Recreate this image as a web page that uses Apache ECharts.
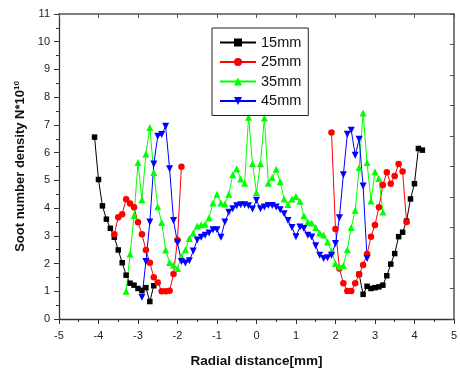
<!DOCTYPE html>
<html>
<head>
<meta charset="utf-8">
<script src="https://cdn.jsdelivr.net/npm/echarts@6/dist/echarts.min.js"></script>
<style>
html,body{margin:0;padding:0;background:#fff;}
#chart{width:460px;height:373px;}
</style>
</head>
<body>
<div id="chart"></div>
<script>
// ---- data (Radial distance [mm], Soot number density N*10^10) ----
const seriesNames = ['15mm', '25mm', '35mm', '45mm'];
const xTicks = [-5, -4, -3, -2, -1, 0, 1, 2, 3, 4, 5];

const x15 = [-4.1,-4.0,-3.9,-3.8,-3.7,-3.6,-3.5,-3.4,-3.3,-3.2,-3.1,-3.0,-2.9,-2.8,-2.7,-2.6,
             0,
             2.6,2.7,2.8,2.9,3.0,3.1,3.2,3.3,3.4,3.5,3.6,3.7,3.8,3.9,4.0,4.1,4.2];
const y15 = [6.56,5.03,4.08,3.60,3.27,2.95,2.49,2.03,1.58,1.29,1.22,1.10,1.03,1.13,0.63,1.20,
             null,
             1.61,0.89,1.18,1.10,1.13,1.16,1.22,1.56,1.98,2.36,2.97,3.13,3.53,4.33,4.88,6.15,6.09];

const x25 = [-3.6,-3.5,-3.4,-3.3,-3.2,-3.1,-3.0,-2.9,-2.8,-2.7,-2.6,-2.5,-2.4,-2.3,-2.2,-2.1,-2.0,-1.9,
             0,
             1.9,2.0,2.1,2.2,2.3,2.4,2.5,2.6,2.7,2.8,2.9,3.0,3.1,3.2,3.3,3.4,3.5,3.6,3.7,3.8];
const y25 = [3.06,3.67,3.78,4.32,4.17,4.03,3.49,3.06,2.49,2.03,1.51,1.32,1.00,1.00,1.02,1.62,2.85,5.49,
             null,
             6.73,3.25,1.82,1.29,1.01,1.01,1.29,1.61,1.95,2.34,2.97,3.39,4.03,4.83,5.29,4.88,5.16,5.59,5.32,3.50];

const x35 = [-3.3,-3.2,-3.1,-3.0,-2.9,-2.8,-2.7,-2.6,-2.5,-2.4,-2.3,-2.2,-2.1,-2.0,-1.9,-1.8,-1.7,-1.6,-1.5,-1.4,
             -1.3,-1.2,-1.1,-1.0,-0.9,-0.8,-0.7,-0.6,-0.5,-0.4,-0.3,-0.2,-0.1,0.0,0.1,0.2,0.3,0.4,0.5,0.6,
             0.7,0.8,0.9,1.0,1.1,1.2,1.3,1.4,1.5,1.6,1.7,1.8,1.9,2.0,2.1,2.2,2.3,2.4,2.5,2.6,
             2.7,2.8,2.9,3.0,3.1,3.2];
const y35 = [1.00,2.34,3.73,5.64,4.30,5.95,6.91,5.28,4.05,3.48,2.49,2.04,1.95,1.82,2.25,2.50,2.90,3.10,3.35,3.40,
             3.42,3.65,4.18,4.50,4.18,4.15,4.50,5.20,5.42,5.05,4.90,7.28,5.60,4.56,5.60,7.25,4.90,5.10,5.40,4.95,
             4.33,4.13,4.33,4.42,4.25,3.72,3.50,3.46,3.30,3.10,3.03,2.78,2.45,2.00,1.88,1.93,2.50,3.30,3.92,5.46,
             7.43,5.64,4.26,5.31,5.07,3.86];

const x45 = [-2.9,-2.8,-2.7,-2.6,-2.5,-2.4,-2.3,-2.2,-2.1,-2.0,-1.9,-1.8,-1.7,-1.6,-1.5,-1.4,-1.3,-1.2,-1.1,-1.0,
             -0.9,-0.8,-0.7,-0.6,-0.5,-0.4,-0.3,-0.2,-0.1,0.0,0.1,0.2,0.3,0.4,0.5,0.6,0.7,0.8,0.9,1.0,
             1.1,1.2,1.3,1.4,1.5,1.6,1.7,1.8,1.9,2.0,2.1,2.2,2.3,2.4,2.5,2.6,2.7,2.8];
const y45 = [0.78,2.07,3.50,5.59,6.59,6.65,6.95,5.42,3.55,2.75,2.07,2.02,2.10,2.45,2.85,2.95,3.02,3.10,3.22,3.22,
             2.95,3.50,3.85,3.98,4.08,4.12,4.12,4.08,3.97,4.28,3.98,4.04,4.09,4.09,4.04,3.94,3.80,3.55,3.30,2.97,
             3.32,3.26,3.02,2.96,2.64,2.30,2.18,2.21,2.30,2.72,3.65,5.20,6.66,6.81,5.91,6.48,4.80,2.18];

function pairs(xs, ys) {
  return xs.map((x, i) => ys[i] === null ? [x, '-'] : [x, ys[i]]);
}

const chart = echarts.init(document.getElementById('chart'), null, {renderer: 'canvas'});
const FONT = '"Liberation Sans", Arial, sans-serif';
const axisCol = '#333';

function lineSeries(name, xs, ys, color, symbol, size, rotate) {
  return {
    name: name, type: 'line', data: pairs(xs, ys),
    symbol: symbol, symbolSize: size, symbolRotate: rotate || 0,
    showAllSymbol: true, connectNulls: false,
    lineStyle: {color: color, width: 1},
    itemStyle: {color: color, borderWidth: 0},
    emphasis: {disabled: true},
    animation: false
  };
}

chart.setOption({
  animation: false,
  backgroundColor: '#fff',
  grid: {left: 59, right: 3.5, top: 14, bottom: 53, containLabel: false},
  legend: {
    orient: 'vertical', left: 212, top: 28,
    padding: [7, 7, 7, 7],
    itemWidth: 36, itemHeight: 10, itemGap: 4.5,
    borderColor: '#222', borderWidth: 1, backgroundColor: '#fff',
    textStyle: {fontFamily: FONT, fontSize: 14.5, color: '#111', lineHeight: 14},
    data: seriesNames,
    selectedMode: false
  },
  xAxis: [{
    type: 'value', min: xTicks[0], max: xTicks[xTicks.length - 1], interval: 1,
    position: 'bottom',
    name: 'Radial distance[mm]', nameLocation: 'middle', nameGap: 35,
    nameTextStyle: {fontFamily: FONT, fontSize: 13.5, fontWeight: 'bold', color: '#111'},
    axisLine: {onZero: false, lineStyle: {color: axisCol, width: 1.3}},
    axisTick: {inside: false, length: 5, lineStyle: {color: axisCol, width: 1}},
    minorTick: {show: true, splitNumber: 2, length: 3, lineStyle: {color: axisCol, width: 1}},
    axisLabel: {margin: 11, fontFamily: FONT, fontSize: 11, color: '#222'},
    splitLine: {show: false}
  }, {
    type: 'value', min: -5, max: 5, interval: 1, position: 'top',
    axisLine: {onZero: false, lineStyle: {color: '#555', width: 1.5}},
    axisTick: {inside: true, length: 4, lineStyle: {color: '#555', width: 1}},
    axisLabel: {show: false}, splitLine: {show: false}
  }],
  yAxis: [{
    type: 'value', min: 0, max: 11, interval: 1, position: 'left',
    name: '{a|Soot number density N*10}{s|10}', nameLocation: 'middle', nameGap: 31, nameRotate: 90,
    nameTextStyle: {
      verticalAlign: 'middle', align: 'center',
      rich: {
        a: {fontFamily: FONT, fontSize: 13, fontWeight: 'bold', color: '#111', lineHeight: 16},
        s: {fontFamily: FONT, fontSize: 8, fontWeight: 'bold', color: '#111', verticalAlign: 'top', lineHeight: 16, padding: [0, 0, 6, 0]}
      }
    },
    axisLine: {onZero: false, lineStyle: {color: axisCol, width: 1.3}},
    axisTick: {inside: false, length: 5, lineStyle: {color: axisCol, width: 1}},
    minorTick: {show: true, splitNumber: 2, length: 3, lineStyle: {color: axisCol, width: 1}},
    axisLabel: {margin: 9, fontFamily: FONT, fontSize: 11, color: '#222'},
    splitLine: {show: false}
  }, {
    type: 'value', min: 0, max: 11, interval: 1.1, position: 'right',
    axisLine: {onZero: false, lineStyle: {color: '#555', width: 1.5}},
    axisTick: {inside: true, length: 4, lineStyle: {color: '#555', width: 1}},
    axisLabel: {show: false}, splitLine: {show: false}
  }],
  series: [
    lineSeries(seriesNames[0], x15, y15, '#000000', 'rect', 5.5),
    lineSeries(seriesNames[1], x25, y25, '#ff0000', 'circle', 6.5),
    lineSeries(seriesNames[2], x35, y35, '#00ff00', 'triangle', 7),
    lineSeries(seriesNames[3], x45, y45, '#0000ff', 'triangle', 7, 180)
  ]
});
</script>
</body>
</html>
